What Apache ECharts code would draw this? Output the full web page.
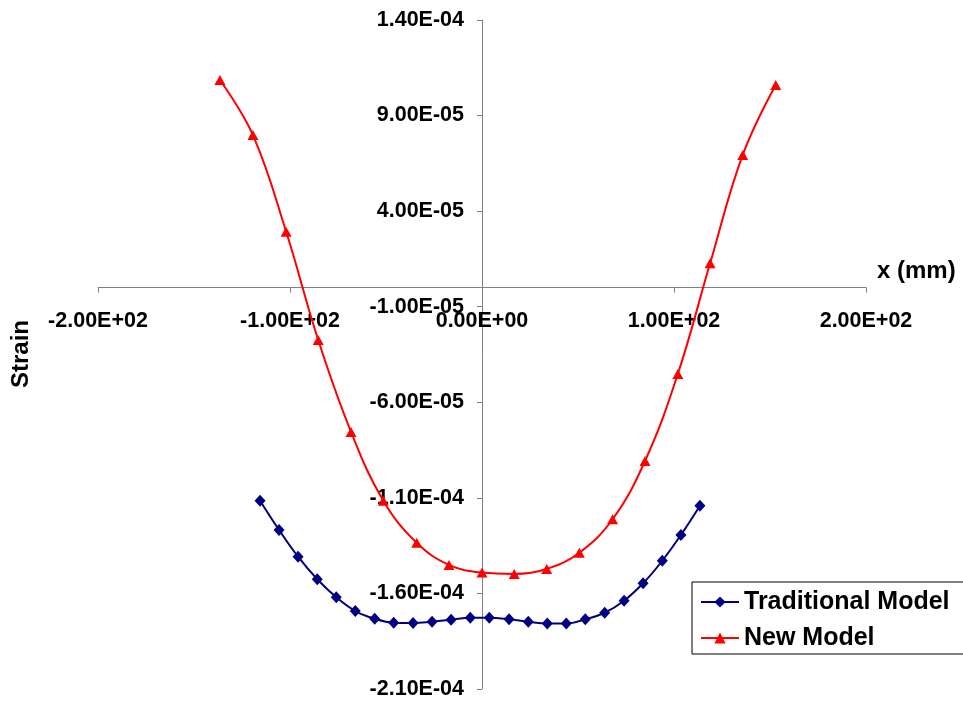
<!DOCTYPE html>
<html>
<head>
<meta charset="utf-8">
<script src="https://cdn.jsdelivr.net/npm/echarts@6/dist/echarts.min.js"></script>
<style>
  html, body { margin: 0; padding: 0; background: #fff; }
  #chart { width: 963px; height: 706px; }
</style>
</head>
<body>
<div id="chart"></div>
<script>
// Traditional Model (x in mm, strain)
const tradX = [-115.6, -105.7, -95.8, -85.8, -75.9, -66.0, -55.9, -46.0, -35.9, -26.0, -16.1, -6.1,
  3.8, 14.1, 24.1, 34.0, 43.9, 53.8, 63.9, 74.0, 83.9, 93.9, 103.6, 113.5]
const tradY = [-1.115e-4, -1.268e-4, -1.408e-4, -1.526e-4, -1.620e-4, -1.692e-4, -1.732e-4, -1.753e-4,
  -1.755e-4, -1.748e-4, -1.738e-4, -1.727e-4, -1.727e-4, -1.735e-4, -1.748e-4, -1.757e-4, -1.757e-4,
  -1.735e-4, -1.701e-4, -1.638e-4, -1.547e-4, -1.429e-4, -1.294e-4, -1.141e-4]

// New Model
const newX = [-136.5, -119.3, -102.0, -85.3, -68.2, -51.4, -34.0, -17.2, 0.0, 16.8, 33.7, 50.7,
  68.0, 84.9, 102.0, 118.8, 135.8, 153.0]
const newY = [1.086e-4, 7.98e-5, 2.92e-5, -2.74e-5, -7.55e-5, -1.115e-4, -1.335e-4, -1.451e-4,
  -1.491e-4, -1.498e-4, -1.472e-4, -1.387e-4, -1.212e-4, -9.07e-5, -4.52e-5, 1.27e-5, 6.94e-5, 1.06e-4]

const xTicks = { min: -200, max: 200, step: 100 }
const yTicks = { min: -2.1e-4, max: 1.4e-4, step: 5e-5 }

const sci = v => {
  if (Math.abs(v) < 1e-12) v = 0
  const [m, e] = v.toExponential(2).split('e')
  return m + 'E' + e[0] + e.slice(1).padStart(2, '0')
}

const font = 'Liberation Sans, Arial, sans-serif'

const W = 963, H = 706
const grid = { left: 98, right: 97, top: 20, bottom: 17 }
const gw = W - grid.left - grid.right
const gh = H - grid.top - grid.bottom
// axes cross at zero: shift each axis from its grid edge to the zero of the other
const yOffset = -gw * (0 - xTicks.min) / (xTicks.max - xTicks.min)
const xOffset = -gh * (0 - yTicks.min) / (yTicks.max - yTicks.min)

const chart = echarts.init(document.getElementById('chart'))

chart.setOption({
  backgroundColor: '#fff',
  animation: false,
  grid: { ...grid, containLabel: false, outerBoundsMode: 'none' },
  legend: {
    orient: 'vertical',
    left: 692,
    top: 582,
    padding: [6, 20, 2, 8],
    itemWidth: 38,
    itemHeight: 14,
    itemGap: 8,
    borderColor: '#000',
    borderWidth: 1,
    textStyle: { fontFamily: font, fontSize: 25, fontWeight: 'bold', color: '#000', lineHeight: 28 },
    data: ['Traditional Model', 'New Model']
  },
  xAxis: {
    type: 'value',
    position: 'bottom',
    offset: xOffset,
    min: xTicks.min,
    max: xTicks.max,
    interval: xTicks.step,
    axisLine: { onZero: false, lineStyle: { color: '#808080', width: 1 } },
    axisTick: { show: true, length: 5, lineStyle: { color: '#808080' } },
    splitLine: { show: false },
    axisLabel: {
      margin: 22,
      color: '#000',
      fontFamily: font,
      fontSize: 21.5,
      fontWeight: 'bold',
      formatter: sci
    }
  },
  yAxis: {
    type: 'value',
    position: 'left',
    offset: yOffset,
    min: yTicks.min,
    max: yTicks.max,
    interval: yTicks.step,
    axisLine: { show: true, onZero: false, lineStyle: { color: '#808080', width: 1 } },
    axisTick: { show: true, length: 5, lineStyle: { color: '#808080' } },
    splitLine: { show: false },
    axisLabel: {
      margin: 18,
      color: '#000',
      fontFamily: font,
      fontSize: 21.5,
      fontWeight: 'bold',
      formatter: sci
    }
  },
  graphic: [
    {
      type: 'text',
      left: 877,
      top: 259,
      style: { text: 'x (mm)', fontFamily: font, fontSize: 24, fontWeight: 'bold', fill: '#000' }
    },
    {
      type: 'text',
      x: 21,
      y: 354,
      rotation: Math.PI / 2,
      style: {
        text: 'Strain', fontFamily: font, fontSize: 24, fontWeight: 'bold', fill: '#000',
        align: 'center', verticalAlign: 'middle'
      }
    }
  ],
  series: [
    {
      name: 'Traditional Model',
      type: 'line',
      smooth: 0.4,
      symbol: 'diamond',
      symbolSize: [11, 12],
      color: '#000080',
      lineStyle: { color: '#000080', width: 2 },
      itemStyle: { color: '#000080' },
      data: tradX.map((x, i) => [x, tradY[i]])
    },
    {
      name: 'New Model',
      type: 'line',
      smooth: 0.4,
      symbol: 'triangle',
      symbolSize: [11, 10],
      color: '#ff0000',
      lineStyle: { color: '#ff0000', width: 2 },
      itemStyle: { color: '#ff0000' },
      data: newX.map((x, i) => [x, newY[i]])
    }
  ]
})
</script>
</body>
</html>
